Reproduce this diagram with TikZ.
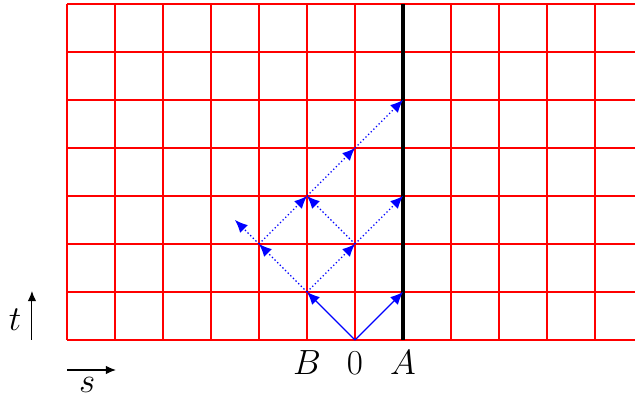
\documentclass[tikz,border=0pt]{standalone}
\usetikzlibrary{arrows.meta}
\begin{document}
\begin{tikzpicture}[x=1cm,y=1cm,
  gridline/.style={draw=red,line width=0.7pt},
  wall/.style={black,line width=2.6pt},
  ray/.style={blue,line width=0.7pt,-{Latex[length=7.5pt,width=6.5pt]}},
  dotray/.style={ray,dash pattern=on 0.8pt off 1.4pt},
  axisarrow/.style={black,line width=0.6pt,-{Latex[length=6pt,width=5pt]}},
  lab/.style={font=\fontsize{20}{24}\selectfont}]
\useasboundingbox (-7.396,-1.1875) rectangle (5.833,7.083);
\clip (-7.396,-1.1875) rectangle (5.833,7.083);
\foreach \i in {-6,...,6} {\draw[gridline] (\i,0) -- (\i,7);}
\foreach \j in {0,...,7} {\draw[gridline] (-6,\j) -- (6,\j);}
\draw[wall] (1,0) -- (1,7);
% lattice points
\coordinate (O) at (0,0);
\coordinate (m1a) at (-1,1);
\coordinate (p1a) at (1,1);
\coordinate (m2b) at (-2,2);
\coordinate (z2) at (0,2);
\coordinate (m1c) at (-1,3);
\coordinate (p1c) at (1,3);
\coordinate (half) at (-2.5,2.5);
\coordinate (z4) at (0,4);
\coordinate (p1e) at (1,5);
% rays
\draw[ray] (O) -- (m1a);
\draw[ray] (O) -- (p1a);
\draw[dotray] (m1a) -- (m2b);
\draw[dotray] (m1a) -- (z2);
\draw[dotray] (m2b) -- (half);
\draw[dotray] (m2b) -- (m1c);
\draw[dotray] (z2) -- (m1c);
\draw[dotray] (z2) -- (p1c);
\draw[dotray] (m1c) -- (z4);
\draw[dotray] (z4) -- (p1e);
% labels
\node[lab] (B) at (-1,-0.48) {$B$};
\node[lab] (zero) at (0,-0.48) {$0$};
\node[lab] (A) at (1,-0.48) {$A$};
% axes
\coordinate (t0) at (-6.73,0);
\coordinate (t1) at (-6.73,1.02);
\draw[axisarrow] (t0) -- (t1);
\node[lab] (tl) at (-7.08,0.42) {$t$};
\coordinate (s0) at (-6,-0.625);
\coordinate (s1) at (-4.98,-0.625);
\draw[axisarrow] (s0) -- (s1);
\node[lab] (sl) at (-5.58,-0.93) {$s$};
\end{tikzpicture}
\end{document}
